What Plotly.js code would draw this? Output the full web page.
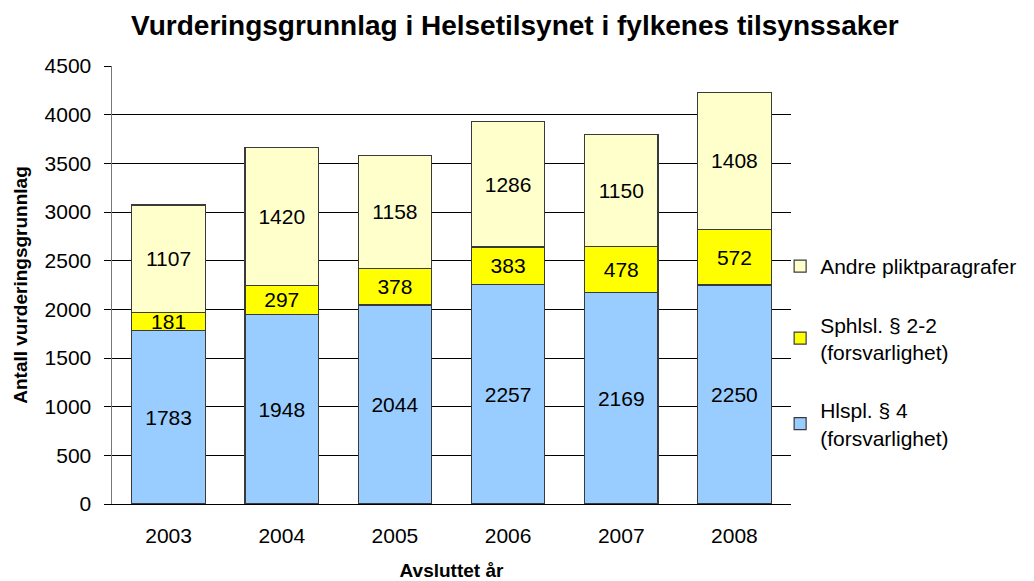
<!DOCTYPE html>
<html>
<head>
<meta charset="utf-8">
<script src="https://cdn.plot.ly/plotly-3.0.1.min.js"></script>
<style>html,body{margin:0;padding:0;background:#fff;}#chart{width:1034px;height:581px;}</style>
</head>
<body>
<div id="chart"></div>
<script>
const years = ['2003', '2004', '2005', '2006', '2007', '2008'];
const hlspl = [1783, 1948, 2044, 2257, 2169, 2250];
const sphlsl = [181, 297, 378, 383, 478, 572];
const andre = [1107, 1420, 1158, 1286, 1150, 1408];
const seriesNames = ['Hlspl. § 4<br>(forsvarlighet)', 'Sphlsl. § 2-2<br>(forsvarlighet)', 'Andre pliktparagrafer'];
const seriesColors = ['#99CCFF', '#FFFF00', '#FFFFCC'];
const seriesValues = [hlspl, sphlsl, andre];

const font = 'Arial, "Liberation Sans", sans-serif';
const traces = seriesValues.map((vals, i) => ({
  type: 'bar',
  x: years,
  y: vals,
  name: seriesNames[i],
  legendgroup: 'g' + i,
  legendrank: 3 - i,
  marker: {color: seriesColors[i], line: {color: '#3a3a3a', width: 1.2}},
  text: vals.map(String),
  textposition: 'inside',
  insidetextanchor: 'middle',
  constraintext: 'none',
  textfont: {family: font, size: 21, color: '#000'},
  hoverinfo: 'x+y+name'
}));

const layout = {
  width: 1034, height: 581,
  paper_bgcolor: '#fff', plot_bgcolor: '#fff',
  margin: {l: 112, r: 241, t: 66, b: 77},
  barmode: 'stack',
  bargap: 0.35,
  font: {family: font, color: '#000'},
  title: {text: '<b>Vurderingsgrunnlag i Helsetilsynet i fylkenes tilsynssaker</b>', x: 0.498, xref: 'container', xanchor: 'center', y: 0.957, yanchor: 'middle', font: {family: font, size: 28, color: '#000'}},
  xaxis: {
    type: 'category',
    showline: true, linecolor: '#000', linewidth: 1.2,
    ticks: 'outside', ticklen: 0, ticklabelstandoff: 13,
    tickfont: {family: font, size: 21, color: '#000'},
    showgrid: false, zeroline: false,
    title: {text: '<b>Avsluttet år</b>', font: {family: font, size: 19, color: '#000'}, standoff: 18}
  },
  yaxis: {
    range: [0, 4500], dtick: 500, tick0: 0,
    showline: true, linecolor: '#777', linewidth: 1.5,
    ticks: 'outside', ticklen: 7, tickcolor: '#000', tickwidth: 1,
    ticklabelstandoff: 8,
    tickfont: {family: font, size: 21, color: '#000'},
    showgrid: true, gridcolor: '#000', gridwidth: 1,
    zeroline: false,
    title: {text: '<b>Antall vurderingsgrunnlag</b>', font: {family: font, size: 19, color: '#000'}, standoff: 12}
  },
  showlegend: true,
  legend: {
    x: 0.984, xanchor: 'left', y: 0.347, yanchor: 'middle',
    traceorder: 'grouped', tracegroupgap: 28,
    font: {family: font, size: 21, color: '#000'},
    bgcolor: 'rgba(0,0,0,0)', itemwidth: 30
  }
};

Plotly.newPlot('chart', traces, layout, {displayModeBar: false, staticPlot: true});
</script>
</body>
</html>
